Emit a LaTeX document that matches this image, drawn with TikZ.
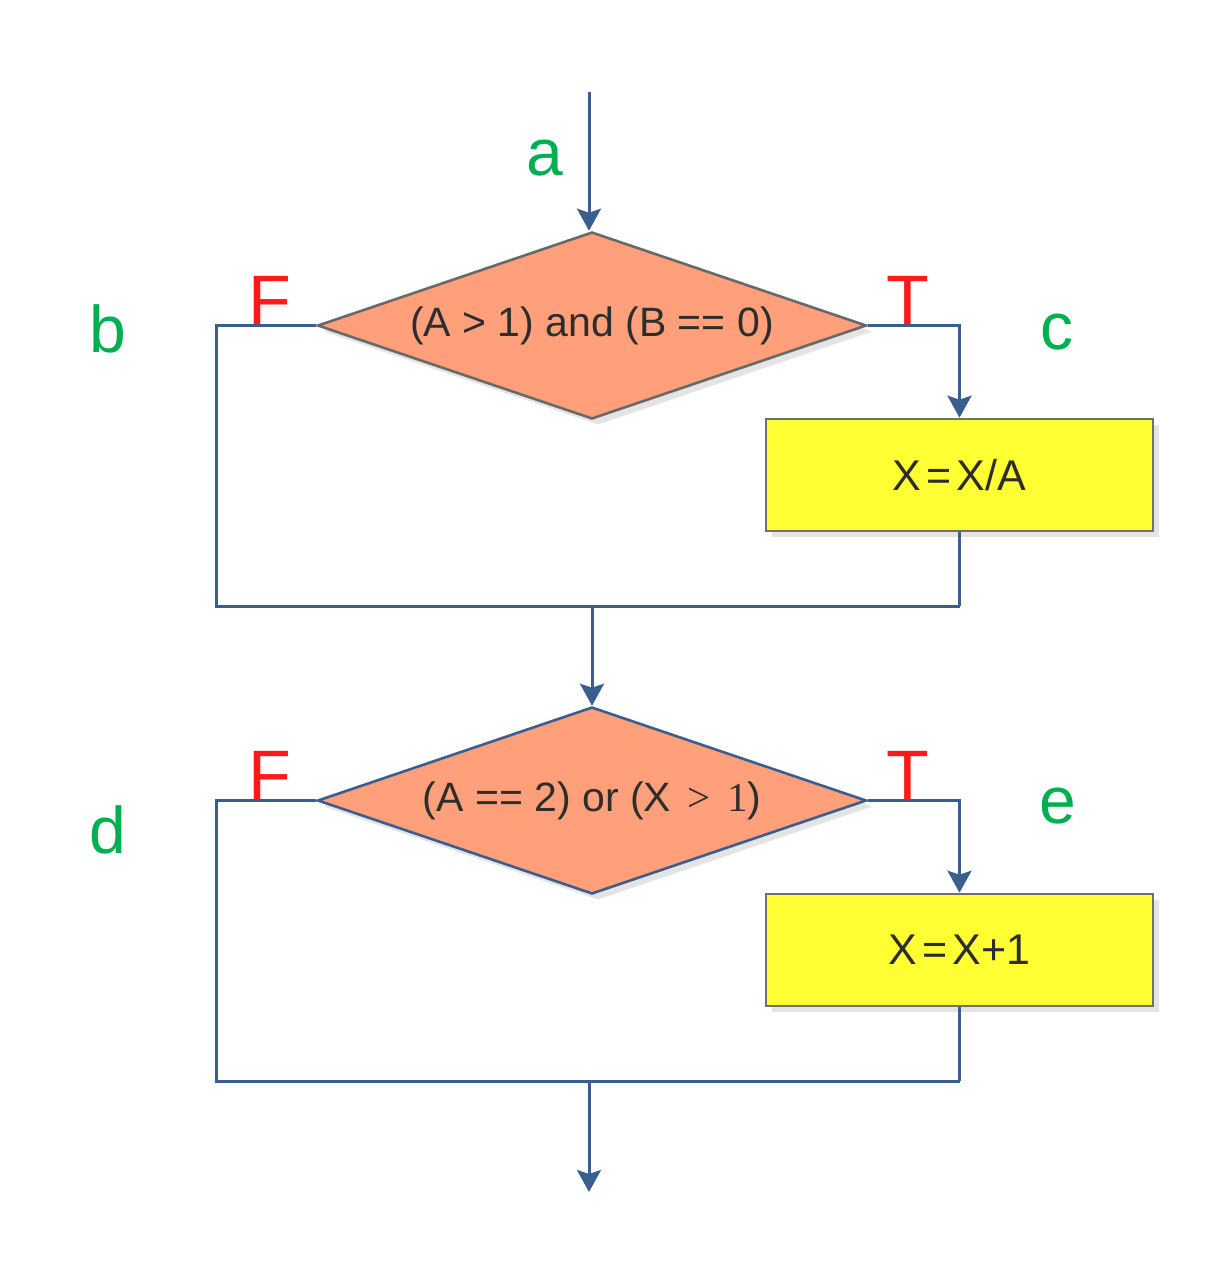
\documentclass[tikz,border=0pt]{standalone}
\usepackage{fontspec}
\setmainfont{Liberation Sans}
\newfontfamily\serifpart{Liberation Serif}
\usetikzlibrary{shapes.geometric,arrows.meta,shadows}
\definecolor{lineblue}{RGB}{58,95,143}
\definecolor{salmonfill}{RGB}{255,160,122}
\definecolor{diagray}{RGB}{105,105,105}
\definecolor{boxyellow}{RGB}{255,255,51}
\definecolor{boxgray}{RGB}{112,112,112}
\definecolor{shadowgray}{RGB}{228,228,228}
\definecolor{textdark}{RGB}{45,45,45}
\definecolor{labgreen}{RGB}{0,176,80}
\definecolor{tfred}{RGB}{255,25,25}
\begin{document}
\begin{tikzpicture}[x=0.5pt,y=-0.5pt,
  conn/.style={draw=lineblue,line width=1.5pt},
  arr/.style={conn,-{Stealth[length=11pt,width=12pt,inset=2pt]}},
  decision/.style={diamond,shape aspect=2.94,minimum width=274.5pt,minimum height=93.5pt,
    inner sep=0pt,fill=salmonfill,line width=1.3pt,
    general shadow={fill=shadowgray,shadow xshift=3pt,shadow yshift=-3pt},
    text=textdark,font=\fontsize{20.5}{24}\selectfont},
  procbox/.style={rectangle,minimum width=193.5pt,minimum height=56pt,inner sep=0pt,
    fill=boxyellow,draw=boxgray,line width=1.3pt,
    general shadow={fill=shadowgray,shadow xshift=3pt,shadow yshift=-3pt},
    text=textdark,font=\fontsize{21.5}{24}\selectfont},
  lab/.style={text=labgreen,inner sep=0pt,font=\fontsize{33}{38}\selectfont},
  tf/.style={text=tfred,inner sep=0pt,font=\fontsize{35}{40}\selectfont}]
\useasboundingbox (0,0) rectangle (1226,1282);

% first decision
\coordinate (start) at (589,92);
\node[decision,draw=diagray] (d1) at (592,325.5) {(A > 1) and (B == 0)};
\node[procbox] (b1) at (959.5,475) {X\hspace{0.12em}=\hspace{0.12em}X/A};
\coordinate (j1) at (216,606);
\coordinate (k1) at (959.5,606);
\coordinate (m1) at (592,606);
\draw[arr] (start) -- (start |- d1.north);
\draw[conn] (d1.west) -| (j1) -- (k1);
\draw[arr] (d1.east) -| (b1.north);
\draw[conn] (b1.south) -- (k1);

% second decision
\node[decision,draw=lineblue] (d2) at (592,800.5) {(A == 2) or (X\hspace{0.4em}{\serifpart >\hspace{0.4em}1})};
\node[procbox] (b2) at (959.5,950) {X\hspace{0.12em}=\hspace{0.12em}X+1};
\coordinate (j2) at (216,1081);
\coordinate (k2) at (959.5,1081);
\coordinate (m2) at (589,1081);
\coordinate (endpt) at (589,1192);
\draw[arr] (m1) -- (d2.north);
\draw[conn] (d2.west) -| (j2) -- (k2);
\draw[arr] (d2.east) -| (b2.north);
\draw[conn] (b2.south) -- (k2);
\draw[arr] (m2) -- (endpt);

% labels
\node[lab] (la) at (545,158) {a};
\node[lab] (lb) at (108,329) {b};
\node[lab] (lc) at (1057,332) {c};
\node[lab] (ld) at (108,830) {d};
\node[lab] (le) at (1058,806) {e};
\node[tf] (f1) at (270,300) {F};
\node[tf] (t1) at (908,300) {T};
\node[tf] (f2) at (270,775) {F};
\node[tf] (t2) at (908,775) {T};
\end{tikzpicture}
\end{document}
